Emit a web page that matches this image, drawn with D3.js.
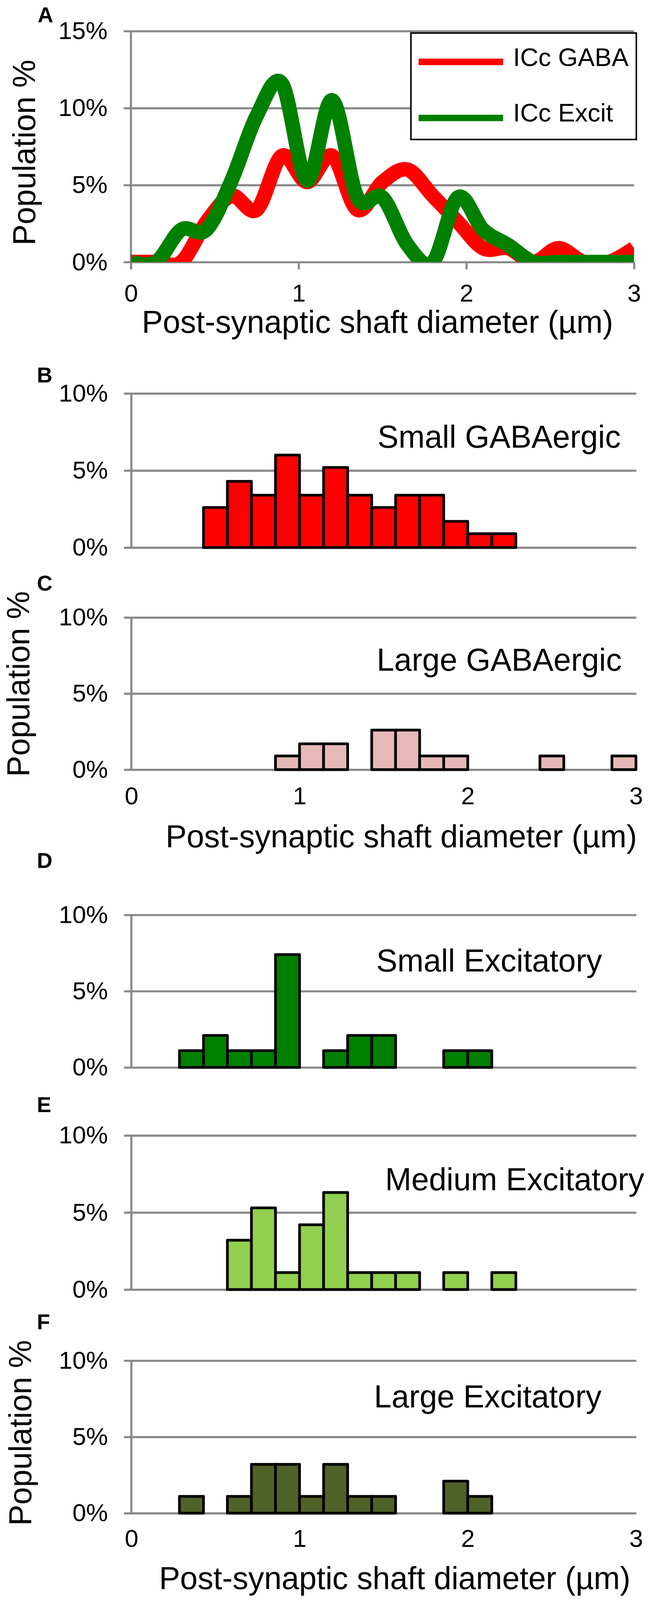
<!DOCTYPE html>
<html>
<head>
<meta charset="utf-8">
<script src="https://cdn.jsdelivr.net/npm/d3@7"></script>
<style>
  html, body { margin: 0; padding: 0; background: #fff; overflow: hidden; }
  svg { display: block; width: 100vw; height: 100vh; }
  text { font-family: "Liberation Sans", Arial, Helvetica, sans-serif; fill: #000; }
</style>
</head>
<body>
<svg id="chart" viewBox="0 0 1688 4164" preserveAspectRatio="xMinYMin meet"></svg>
<script>
// ---------------- DATA ----------------
// Panel A: smoothed frequency curves (x in µm, y in % of population)
const curveX = [0, 0.15, 0.3, 0.45, 0.6, 0.75, 0.9, 1.05, 1.2, 1.35, 1.5, 1.65, 1.8, 1.95, 2.1, 2.25, 2.4, 2.55, 2.7, 2.85, 3.0];
const gabaCurve  = [0, 0, 0, 2.6, 4.3, 3.4, 6.9, 5.2, 6.9, 3.4, 5.2, 6.0, 4.3, 2.6, 0.9, 0.9, 0, 0.9, 0, 0, 0.9];
const excitCurve = [0, 0, 2.1, 2.1, 5.3, 9.5, 11.6, 5.3, 10.5, 4.2, 4.2, 1.1, 0, 4.2, 2.1, 1.1, 0, 0, 0, 0, 0];
const curveNames = ["ICc GABA", "ICc Excit"];

// Panels B–F: histogram bins (lower / upper edges, µm)
const binLower = [0, 0.143, 0.286, 0.429, 0.571, 0.714, 0.857, 1.0, 1.143, 1.286, 1.429, 1.571, 1.714, 1.857, 2.0, 2.143, 2.286, 2.429, 2.571, 2.714, 2.857];
const binUpper = [0.143, 0.286, 0.429, 0.571, 0.714, 0.857, 1.0, 1.143, 1.286, 1.429, 1.571, 1.714, 1.857, 2.0, 2.143, 2.286, 2.429, 2.571, 2.714, 2.857, 3.0];

const smallGABA   = [0, 0, 0, 2.6, 4.3, 3.4, 6.0, 3.4, 5.2, 3.4, 2.6, 3.4, 3.4, 1.7, 0.9, 0.9, 0, 0, 0, 0, 0];
const largeGABA   = [0, 0, 0, 0, 0, 0, 0.9, 1.7, 1.7, 0, 2.6, 2.6, 0.9, 0.9, 0, 0, 0, 0.9, 0, 0, 0.9];
const smallExcit  = [0, 0, 1.1, 2.1, 1.1, 1.1, 7.4, 0, 1.1, 2.1, 2.1, 0, 0, 1.1, 1.1, 0, 0, 0, 0, 0, 0];
const mediumExcit = [0, 0, 0, 0, 3.2, 5.3, 1.1, 4.2, 6.3, 1.1, 1.1, 1.1, 0, 1.1, 0, 1.1, 0, 0, 0, 0, 0];
const largeExcit  = [0, 0, 1.1, 0, 1.1, 3.2, 3.2, 1.1, 3.2, 1.1, 1.1, 0, 0, 2.1, 1.1, 0, 0, 0, 0, 0, 0];

const histTitles = ["Small GABAergic", "Large GABAergic", "Small Excitatory", "Medium Excitatory", "Large Excitatory"];
const panelLetters = ["A", "B", "C", "D", "E", "F"];
const xTicks = [0, 1, 2, 3];
const yTicksA = [0, 5, 10, 15];
const yTicksHist = [0, 5, 10];
const xLabel = "Post-synaptic shaft diameter (\u00b5m)";
const yLabel = "Population %";

// ---------------- LAYOUT / STYLE ----------------
const GRID = "#898989";
const FONT_TICK = 64, FONT_TITLE = 82, FONT_AXIS = 82, FONT_LEG = 66, FONT_LETTER = 56;
const FAMILY = '"Liberation Sans", Arial, sans-serif';

const svg = d3.select("#chart");

function drawYAxis(g, y, ticks, left, right) {
  const ax = d3.axisLeft(y).tickValues(ticks).tickFormat(d => d + "%")
    .tickSizeInner(-(right - left)).tickSizeOuter(0).tickPadding(61);
  const a = g.append("g").attr("transform", `translate(${left},0)`).call(ax);
  a.select(".domain").remove();
  a.selectAll(".tick line").attr("x1", -19).attr("stroke", GRID).attr("stroke-width", 5.5);
  a.selectAll(".tick text").attr("font-size", FONT_TICK).style("font-family", FAMILY).attr("fill", "#000");
  return a;
}

// ---------- Panel A ----------
{
  const x = d3.scaleLinear().domain([0, 3]).range([341, 1651]);
  const y = d3.scaleLinear().domain([0, 15]).range([682, 81]);
  const g = svg.append("g");
  drawYAxis(g, y, yTicksA, 341, 1651);
  g.append("line").attr("x1", 341).attr("x2", 341).attr("y1", y(15)).attr("y2", y(0) + 19)
    .attr("stroke", GRID).attr("stroke-width", 5.5);
  const xa = d3.axisBottom(x).tickValues(xTicks).tickFormat(d3.format("d")).tickSizeInner(19).tickSizeOuter(0).tickPadding(38);
  const xg = g.append("g").attr("transform", `translate(0,${y(0)})`).call(xa);
  xg.select(".domain").remove();
  xg.selectAll(".tick line").attr("stroke", GRID).attr("stroke-width", 5.5);
  xg.selectAll(".tick text").attr("font-size", FONT_TICK).style("font-family", FAMILY).attr("fill", "#000");

  svg.append("defs").append("clipPath").attr("id", "clipA")
    .append("rect").attr("x", 341).attr("y", 0).attr("width", 1651 - 341).attr("height", 682);
  const line = d3.line().x(d => x(d[0])).y(d => y(d[1])).curve(d3.curveCardinal.tension(0));
  const series = [
    { vals: gabaCurve, color: "#ff0000" },
    { vals: excitCurve, color: "#008000" }
  ];
  const cg = g.append("g").attr("clip-path", "url(#clipA)");
  series.forEach(s => {
    cg.append("path").datum(curveX.map((xv, i) => [xv, s.vals[i]]))
      .attr("d", line).attr("fill", "none").attr("stroke", s.color)
      .attr("stroke-width", 38).attr("stroke-linejoin", "round");
  });

  const lg = g.append("g");
  lg.append("rect").attr("x", 1070).attr("y", 86).attr("width", 587).attr("height", 277)
    .attr("fill", "#fff").attr("stroke", "#000").attr("stroke-width", 4);
  const legY = [161, 307], legTextY = [172, 316];
  series.forEach((s, i) => {
    lg.append("line").attr("x1", 1090).attr("x2", 1310).attr("y1", legY[i]).attr("y2", legY[i])
      .attr("stroke", s.color).attr("stroke-width", 17);
    lg.append("text").attr("x", 1336).attr("y", legTextY[i]).attr("font-size", FONT_LEG).text(curveNames[i]);
  });

  g.append("text").attr("x", 983).attr("y", 866).attr("text-anchor", "middle")
    .attr("font-size", FONT_AXIS).text(xLabel);
  g.append("text").attr("transform", "translate(92,397) rotate(-90)").attr("text-anchor", "middle")
    .attr("font-size", FONT_AXIS).text(yLabel);
  g.append("text").attr("x", 98).attr("y", 58).attr("font-size", FONT_LETTER).attr("font-weight", "bold").text(panelLetters[0]);
}

// ---------- Panels B–F ----------
const histPanels = [
  { vals: smallGABA,   color: "#ff0000", zero: 1425, top: 1024, titleX: 983,  titleY: 1165, letterY: 995 },
  { vals: largeGABA,   color: "#e6b9b8", zero: 2003, top: 1607, titleX: 981,  titleY: 1745, letterY: 1537,
    xAxis: { labelTop: 45, labelY: 2205, labelX: 1045 }, yLab: { x: 76, y: 1780 } },
  { vals: smallExcit,  color: "#008000", zero: 2778, top: 2381, titleX: 980,  titleY: 2528, letterY: 2259 },
  { vals: mediumExcit, color: "#92d050", zero: 3356, top: 2955, titleX: 1003, titleY: 3098, letterY: 2894 },
  { vals: largeExcit,  color: "#4f6228", zero: 3938, top: 3541, titleX: 974,  titleY: 3663, letterY: 3459,
    xAxis: { labelTop: 42, labelY: 4136, labelX: 1028 }, yLab: { x: 81, y: 3729 } }
];

histPanels.forEach((p, i) => {
  const x = d3.scaleLinear().domain([0, 3]).range([342, 1656]);
  const y = d3.scaleLinear().domain([0, 10]).range([p.zero, p.top]);
  const g = svg.append("g");
  drawYAxis(g, y, yTicksHist, 342, 1657);
  g.append("line").attr("x1", 342).attr("x2", 342).attr("y1", y(10)).attr("y2", y(0))
    .attr("stroke", GRID).attr("stroke-width", 5.5);

  const bins = p.vals.map((v, k) => ({ v, x0: binLower[k], x1: binUpper[k] })).filter(d => d.v > 0);
  g.append("g").selectAll("rect").data(bins).join("rect")
    .attr("x", d => x(d.x0)).attr("width", d => x(d.x1) - x(d.x0))
    .attr("y", d => y(d.v)).attr("height", d => y(0) - y(d.v))
    .attr("fill", p.color).attr("stroke", "#000").attr("stroke-width", 7)
    .attr("stroke-linejoin", "round");

  g.append("text").attr("x", p.titleX).attr("y", p.titleY).attr("font-size", FONT_TITLE).text(histTitles[i]);
  g.append("text").attr("x", 96).attr("y", p.letterY).attr("font-size", FONT_LETTER).attr("font-weight", "bold").text(panelLetters[i + 1]);

  if (p.xAxis) {
    const xa = d3.axisBottom(x).tickValues(xTicks).tickFormat(d3.format("d")).tickSize(0).tickPadding(p.xAxis.labelTop);
    const xg = g.append("g").attr("transform", `translate(0,${y(0)})`).call(xa);
    xg.select(".domain").remove();
    xg.selectAll(".tick text").attr("font-size", FONT_TICK).style("font-family", FAMILY).attr("fill", "#000");
    g.append("text").attr("x", p.xAxis.labelX).attr("y", p.xAxis.labelY).attr("text-anchor", "middle")
      .attr("font-size", FONT_AXIS).text(xLabel);
  }
  if (p.yLab) {
    g.append("text").attr("transform", `translate(${p.yLab.x},${p.yLab.y}) rotate(-90)`).attr("text-anchor", "middle")
      .attr("font-size", FONT_AXIS).text(yLabel);
  }
});
</script>
</body>
</html>
